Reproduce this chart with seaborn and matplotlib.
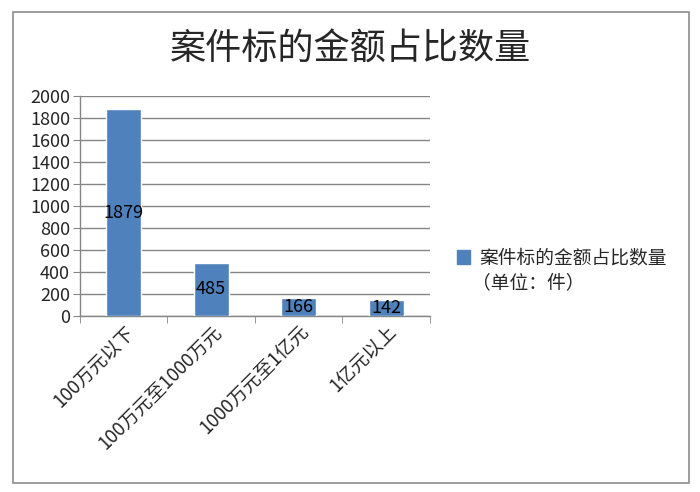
import seaborn as sns
import pandas as pd
import matplotlib.pyplot as plt
from matplotlib.patches import Patch, Rectangle

categories = ['100万元以下', '100万元至1000万元', '1000万元至1亿元', '1亿元以上']
counts = [1879, 485, 166, 142]
series_name = '案件标的金额占比数量'
series_unit = '（单位：件）'
title = '案件标的金额占比数量'
bar_color = '#4F81BD'

df = pd.DataFrame({'cat': categories, 'n': counts})

sns.set_style('white')
plt.rcParams['font.family'] = ['Noto Sans CJK SC', 'DejaVu Sans']

fig = plt.figure(figsize=(7, 4.92), dpi=100)
ax = fig.add_axes([0.114, 0.358, 0.5, 0.447])

sns.barplot(data=df, x='cat', y='n', color=bar_color, width=0.4,
            saturation=1, ax=ax, zorder=3)

ax.set_ylim(0, 2000)
ax.set_xlim(-0.5, 3.5)
ax.set_yticks(range(0, 2001, 200))
ax.yaxis.grid(True, color='#868686', linewidth=1, zorder=0)
ax.tick_params(axis='y', labelsize=13, length=5, color='#868686', pad=2, left=True)

# category ticks sit between the bars, like Excel
ax.set_xticks([i - 0.5 for i in range(len(categories) + 1)], minor=True)
ax.tick_params(axis='x', which='minor', length=5, color='#868686', bottom=True)
ax.tick_params(axis='x', which='major', length=0, labelsize=13.5, pad=4)
plt.setp(ax.get_xticklabels(), rotation=45, ha='right', rotation_mode='anchor')

for s in ['top', 'right']:
    ax.spines[s].set_visible(False)
for s in ['left', 'bottom']:
    ax.spines[s].set_color('#868686')
    ax.spines[s].set_linewidth(1)

for i, v in enumerate(counts):
    ax.text(i, v / 2, str(v), ha='center', va='center', fontsize=13, color='black', zorder=4)

ax.set_xlabel('')
ax.set_ylabel('')

fig.suptitle(title, y=0.90, fontsize=26, va='center')
fig.legend(handles=[Patch(color=bar_color)], labels=[series_name],
           loc='center left', bbox_to_anchor=(0.653, 1 - 258 / 492), frameon=False,
           fontsize=13.5, handlelength=0.7, handleheight=0.7, handletextpad=0.5,
           borderpad=0, borderaxespad=0)
fig.text(0.674, 1 - 283 / 492, series_unit, fontsize=13.5, va='center', ha='left')

fig.add_artist(Rectangle((0.0186, 0.018), 0.9654, 0.958, transform=fig.transFigure,
                         fill=False, edgecolor='#8c8c8c', linewidth=1.2))

plt.savefig('out.png', dpi=100)
